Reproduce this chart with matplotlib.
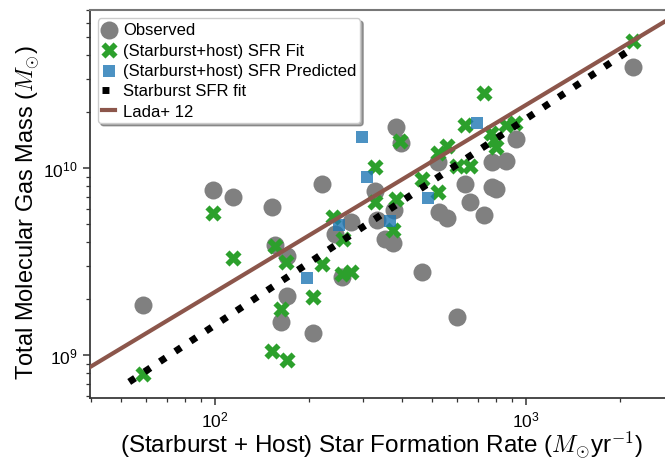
import numpy as np
import matplotlib
matplotlib.use("Agg")
import matplotlib.pyplot as plt

plt.rcParams['font.family'] = ['Liberation Sans', 'DejaVu Sans']
plt.rcParams['mathtext.fontset'] = 'cm'

# Observed: SFR (Msun/yr), total molecular gas mass (Msun)
obs_sfr = [58.7, 98.5, 114.3, 152.5, 220.9, 155.9, 170.4, 170.4, 163.0, 206.6,
           273.7, 243.2, 256.1, 327.0, 331.9, 376.4, 352.1, 373.6, 381.9, 396.3,
           521.2, 777.7, 862.3, 928.6, 636.8, 777.7, 801.0, 660.7, 525.2, 557.2,
           732.8, 463.0, 600.0, 2209]
obs_mgas = [1.85e9, 7.63e9, 7.0e9, 6.19e9, 8.21e9, 3.88e9, 3.38e9, 2.07e9, 1.50e9, 1.31e9,
            5.14e9, 4.44e9, 2.61e9, 7.54e9, 5.27e9, 5.96e9, 4.17e9, 3.97e9, 1.657e10, 1.36e10,
            1.077e10, 1.077e10, 1.09e10, 1.43e10, 8.21e9, 7.91e9, 7.72e9, 6.58e9, 5.82e9, 5.40e9,
            5.61e9, 2.78e9, 1.60e9, 3.47e10]

# (Starburst+host) SFR fit
fit_sfr = [58.7, 98.5, 114.3, 152.5, 170.4, 155.9, 169.2, 163.0, 206.6, 220.9,
           239.6, 258.0, 256.1, 273.7, 327.0, 327.0, 381.9, 373.6, 393.4, 521.2,
           557.2, 463.0, 521.2, 600.0, 660.7, 636.8, 732.8, 771.9, 789.2, 801.0,
           862.3, 921.8, 2209]
fit_mgas = [7.91e8, 5.75e9, 3.30e9, 1.05e9, 9.40e8, 3.83e9, 3.14e9, 1.76e9, 2.04e9, 3.07e9,
            5.47e9, 4.17e9, 2.71e9, 2.78e9, 1.01e10, 6.58e9, 6.83e9, 4.66e9, 1.395e10, 1.20e10,
            1.31e10, 8.73e9, 7.44e9, 1.025e10, 1.025e10, 1.70e10, 2.52e10, 1.54e10, 1.41e10, 1.295e10,
            1.70e10, 1.74e10, 4.78e10]

# (Starburst+host) SFR predicted
pred_sfr = [297.0, 308.2, 250.4, 197.6, 365.3, 695.9, 484.0]
pred_mgas = [1.465e10, 8.95e9, 4.96e9, 2.58e9, 5.21e9, 1.74e10, 6.91e9]

# Starburst SFR fit: log M = a + b log SFR
sb_slope = 1.103
sb_intercept = 6.954
sb_range = [53, 2180]

# Lada+12: SFR = 4.6e-8 * M_gas
lada_coeff = 4.6e-8

xlim = (39.5, 3000)
ylim = (5.91e8, 7.0e10)

fig = plt.figure(figsize=(6.65, 4.64), dpi=100)
ax = fig.add_axes([89.5/665, 65.3/464, (674.4-89.5)/665, 387.7/464])

ax.scatter(obs_sfr, obs_mgas, s=168, c='gray', marker='o', linewidths=0,
           label='Observed', zorder=2)
ax.scatter(fit_sfr, fit_mgas, s=135, c='tab:green', marker='X', linewidths=0,
           label='(Starburst+host) SFR Fit', zorder=3)
ax.scatter(pred_sfr, pred_mgas, s=80, c='tab:blue', marker='s', linewidths=0,
           alpha=0.8, label='(Starburst+host) SFR Predicted', zorder=4)

xs = np.logspace(np.log10(sb_range[0]), np.log10(sb_range[1]), 200)
ax.plot(xs, 10**(sb_intercept + sb_slope*np.log10(xs)), color='black', ls=':',
        lw=5, label='Starburst SFR fit', zorder=5)
xl = np.logspace(np.log10(xlim[0]), np.log10(xlim[1]), 200)
ax.plot(xl, xl/lada_coeff, color='tab:brown', lw=3, label='Lada+ 12', zorder=6)

ax.set_xscale('log')
ax.set_yscale('log')
ax.set_xlim(*xlim)
ax.set_ylim(*ylim)

ax.set_xlabel(r'(Starburst + Host) Star Formation Rate ($M_{\odot}$yr$^{-1}$)',
              fontsize=17.5, labelpad=-0.5)
ax.set_ylabel(r'Total Molecular Gas Mass ($M_{\odot}$)', fontsize=17, labelpad=1)
ax.yaxis.label.set_y(0.479)

ax.tick_params(axis='both', which='major', direction='out', length=5, width=1.1,
               labelsize=12.5, color='#333333')
ax.tick_params(axis='both', which='minor', direction='out', length=3, width=0.9,
               color='#333333')
for s in ['left', 'bottom']:
    ax.spines[s].set_color('#333333')
    ax.spines[s].set_linewidth(1.25)
ax.spines['top'].set_color('#777777')
ax.spines['top'].set_linewidth(1.5)
ax.spines['right'].set_visible(False)

leg = ax.legend(loc='upper left', fontsize=12, handlelength=0.8, handletextpad=0.45,
                frameon=True, fancybox=True, shadow=True, labelspacing=0.32,
                borderpad=0.25, borderaxespad=0.5)
leg.get_frame().set_edgecolor('#cccccc')

fig.savefig('out.png', dpi=100)
